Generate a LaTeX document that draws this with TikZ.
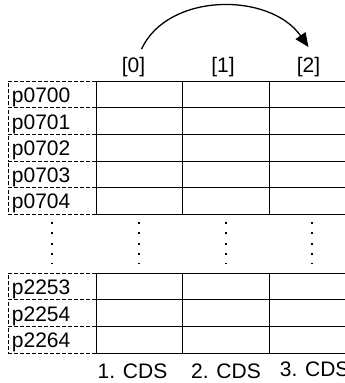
\documentclass[tikz,border=0pt]{standalone}
\usepackage{fontspec}
\setmainfont{Liberation Sans}
\usetikzlibrary{arrows.meta, positioning, calc}

\begin{document}
\begin{tikzpicture}[
  x=1pt, y=-1pt,
  font=\fontsize{21}{24}\selectfont,
  param/.style={draw, dash pattern=on 4pt off 2pt, line width=0.8pt,
                anchor=north west, minimum height=26.6pt, text width=80.7pt,
                inner xsep=3.5pt, inner ysep=0pt, align=left,
                text height=16pt, text depth=0pt},
  cell/.style={draw, line width=0.9pt, anchor=north west,
               minimum height=26.6pt, minimum width=86.5pt, inner sep=0pt},
  hdr/.style={anchor=base, inner sep=0pt},
  arr/.style={-{Triangle[length=14pt, width=12pt]}, line width=1.3pt},
  vdots/.style={line width=2pt, dash pattern=on 2pt off 8.3pt}
]
  \useasboundingbox (0,0) rectangle (345,383);
  \clip (0,0) rectangle (345,383);

  % Parameter rows
  \foreach \name/\y [count=\i] in {p0700/80.7, p0701/107.3, p0702/133.9,
      p0703/160.5, p0704/187.1, p2253/272.7, p2254/299.3, p2264/325.9} {
    \node[param] (p\i) at (8,\y) {\name};
    \foreach \x [count=\j] in {95.7, 182.2, 268.7}
      \node[cell] (c\i-\j) at (\x,\y) {};
  }

  % Index headers
  \foreach \k/\x in {0/133.5, 1/223, 2/308.5}
    \node[hdr] (h\k) at (\x,72.5) {[\k]};

  % Gap between the rows
  \draw[vdots] ([yshift=-7.5pt]p5.south) -- ([yshift=8.5pt]p6.north);
  \foreach \j in {1,2,3}
    \draw[vdots] ([yshift=-7.5pt]c5-\j.south) -- ([yshift=8.5pt]c6-\j.north);

  % Data sets
  \node[hdr] (cds1) at (132.5,378.5) {1. CDS};
  \node[hdr] (cds2) at (226,378.5) {2. CDS};
  \node[hdr] (cds3) at (314.7,376.5) {3. CDS};

  % Copy arrow
  \draw[arr] ([xshift=8pt,yshift=8pt]h0.north)
    .. controls (168,-8) and (270,-8) .. ([yshift=10pt]h2.north);
\end{tikzpicture}
\end{document}
